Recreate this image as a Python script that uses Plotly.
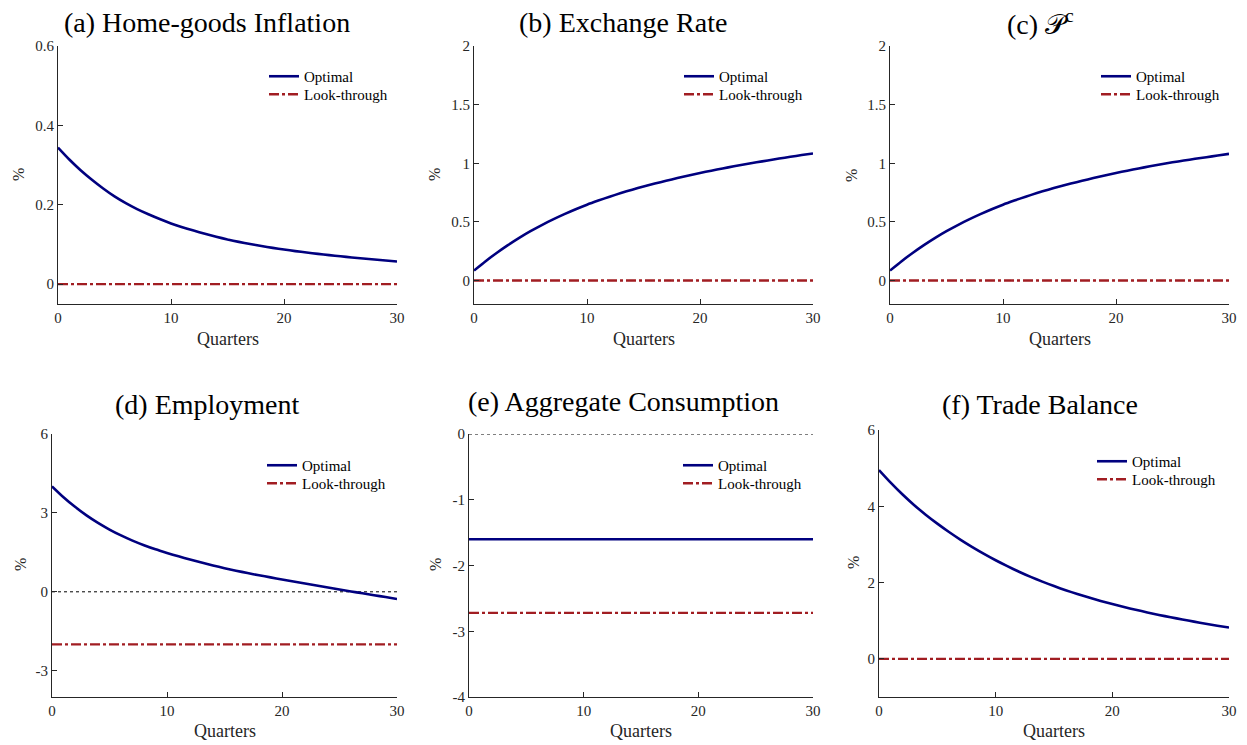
import plotly.graph_objects as go

W, H = 1247, 745

quarters = list(range(31))

home_infl_opt = [0.344, 0.314, 0.287, 0.263, 0.241, 0.221, 0.204, 0.189, 0.176, 0.164, 0.153,
                 0.1435, 0.135, 0.127, 0.1195, 0.1125, 0.1065, 0.101, 0.096, 0.0914, 0.0872,
                 0.0833, 0.0797, 0.0763, 0.0731, 0.0701, 0.0673, 0.0646, 0.0620, 0.0595, 0.0571]
home_infl_lt = [0.0, 0.0, 0.0, 0.0, 0.0, 0.0, 0.0, 0.0, 0.0, 0.0, 0.0, 0.0, 0.0, 0.0, 0.0, 0.0,
                0.0, 0.0, 0.0, 0.0, 0.0, 0.0, 0.0, 0.0, 0.0, 0.0, 0.0, 0.0, 0.0, 0.0, 0.0]

exch_opt = [0.085, 0.163, 0.235, 0.302, 0.364, 0.421, 0.473, 0.521, 0.566, 0.608, 0.647,
            0.682, 0.715, 0.746, 0.775, 0.802, 0.827, 0.851, 0.874, 0.896, 0.917,
            0.937, 0.956, 0.974, 0.991, 1.008, 1.024, 1.040, 1.055, 1.070, 1.084]
exch_lt = [0.0, 0.0, 0.0, 0.0, 0.0, 0.0, 0.0, 0.0, 0.0, 0.0, 0.0, 0.0, 0.0, 0.0, 0.0, 0.0,
           0.0, 0.0, 0.0, 0.0, 0.0, 0.0, 0.0, 0.0, 0.0, 0.0, 0.0, 0.0, 0.0, 0.0, 0.0]

pc_opt = [0.085, 0.163, 0.235, 0.302, 0.364, 0.421, 0.473, 0.521, 0.566, 0.608, 0.647,
          0.682, 0.715, 0.746, 0.775, 0.802, 0.827, 0.851, 0.874, 0.896, 0.917,
          0.937, 0.956, 0.974, 0.991, 1.008, 1.023, 1.038, 1.052, 1.066, 1.080]
pc_lt = [0.0, 0.0, 0.0, 0.0, 0.0, 0.0, 0.0, 0.0, 0.0, 0.0, 0.0, 0.0, 0.0, 0.0, 0.0, 0.0,
         0.0, 0.0, 0.0, 0.0, 0.0, 0.0, 0.0, 0.0, 0.0, 0.0, 0.0, 0.0, 0.0, 0.0, 0.0]

empl_opt = [4.01, 3.597, 3.231, 2.907, 2.621, 2.368, 2.144, 1.946, 1.770, 1.615, 1.478,
            1.348, 1.228, 1.113, 1.003, 0.898, 0.803, 0.713, 0.628, 0.548, 0.468,
            0.390, 0.313, 0.237, 0.162, 0.088, 0.015, -0.057, -0.129, -0.201, -0.272]
empl_lt = [-2.0, -2.0, -2.0, -2.0, -2.0, -2.0, -2.0, -2.0, -2.0, -2.0, -2.0, -2.0, -2.0, -2.0,
           -2.0, -2.0, -2.0, -2.0, -2.0, -2.0, -2.0, -2.0, -2.0, -2.0, -2.0, -2.0, -2.0, -2.0,
           -2.0, -2.0, -2.0]

cons_opt = [-1.6, -1.6, -1.6, -1.6, -1.6, -1.6, -1.6, -1.6, -1.6, -1.6, -1.6, -1.6, -1.6, -1.6,
            -1.6, -1.6, -1.6, -1.6, -1.6, -1.6, -1.6, -1.6, -1.6, -1.6, -1.6, -1.6, -1.6, -1.6,
            -1.6, -1.6, -1.6]
cons_lt = [-2.72, -2.72, -2.72, -2.72, -2.72, -2.72, -2.72, -2.72, -2.72, -2.72, -2.72, -2.72,
           -2.72, -2.72, -2.72, -2.72, -2.72, -2.72, -2.72, -2.72, -2.72, -2.72, -2.72, -2.72,
           -2.72, -2.72, -2.72, -2.72, -2.72, -2.72, -2.72]

tb_opt = [4.95, 4.62, 4.315, 4.035, 3.78, 3.545, 3.325, 3.12, 2.93, 2.752, 2.585,
          2.43, 2.285, 2.15, 2.025, 1.908, 1.80, 1.70, 1.607, 1.52, 1.438,
          1.36, 1.287, 1.218, 1.152, 1.09, 1.032, 0.976, 0.922, 0.87, 0.82]
tb_lt = [0.0, 0.0, 0.0, 0.0, 0.0, 0.0, 0.0, 0.0, 0.0, 0.0, 0.0, 0.0, 0.0, 0.0, 0.0, 0.0,
         0.0, 0.0, 0.0, 0.0, 0.0, 0.0, 0.0, 0.0, 0.0, 0.0, 0.0, 0.0, 0.0, 0.0, 0.0]

titles = ["(a) Home-goods Inflation", "(b) Exchange Rate", "(c) 𝒫<sup>c</sup>",
          "(d) Employment", "(e) Aggregate Consumption", "(f) Trade Balance"]
series_names = ["Optimal", "Look-through"]
x_ticks = [0, 10, 20, 30]
x_ticklabels = ["0", "10", "20", "30"]
y_ticks = [[0, 0.2, 0.4, 0.6], [0, 0.5, 1, 1.5, 2], [0, 0.5, 1, 1.5, 2],
           [-3, 0, 3, 6], [-4, -3, -2, -1, 0], [0, 2, 4, 6]]
y_ticklabels = [["0", "0.2", "0.4", "0.6"], ["0", "0.5", "1", "1.5", "2"],
                ["0", "0.5", "1", "1.5", "2"], ["-3", "0", "3", "6"],
                ["-4", "-3", "-2", "-1", "0"], ["0", "2", "4", "6"]]
y_ranges = [[-0.05, 0.6], [-0.2, 2], [-0.2, 2], [-4, 6], [-4, 0], [-1, 6]]

opt_series = [home_infl_opt, exch_opt, pc_opt, empl_opt, cons_opt, tb_opt]
lt_series = [home_infl_lt, exch_lt, pc_lt, empl_lt, cons_lt, tb_lt]

# layout geometry (pixels)
boxes = [(58, 397, 46, 304), (474, 813, 46, 304), (890, 1229, 46, 304),
         (52, 397, 434, 697), (469, 813, 434, 697), (879, 1229, 430, 697)]
title_pos = [(207, 22), (623, 22), (1040, 22), (207, 404), (623, 402), (1040, 404)]
xlabel_pos = [(228, 339), (644, 339), (1060, 339), (225, 731), (641, 731), (1054, 731)]
ylabel_pos = [(18, 175), (434, 175), (851, 175), (20, 565), (435, 565), (853, 563)]
# (text start x, first item centre y)
legend_pos = [(305, 77), (720, 77), (1137, 77), (303, 466), (719, 466), (1133, 462)]
LEG_DY = 18

NAVY = "#00007F"
RED = "#A11D22"
AXC = "#262626"
FONT = "Liberation Serif"

fig = go.Figure()
layout = dict(
    template="none", showlegend=True,
    width=W, height=H, margin=dict(l=0, r=0, t=0, b=0, pad=0), autosize=False,
    paper_bgcolor="white", plot_bgcolor="white",
    font=dict(family=FONT, color=AXC, size=15),
    annotations=[], shapes=[],
)

leg_idx = 0
for i in range(6):
    k = i + 1
    xs = "x" if k == 1 else f"x{k}"
    ys = "y" if k == 1 else f"y{k}"
    lgs = []
    for j in range(2):
        leg_idx += 1
        lgs.append("legend" if leg_idx == 1 else f"legend{leg_idx}")
    fig.add_trace(go.Scatter(x=quarters, y=opt_series[i], mode="lines", name=series_names[0],
                             line=dict(color=NAVY, width=2.6, shape="spline", smoothing=0.6),
                             xaxis=xs, yaxis=ys, legend=lgs[0], showlegend=True))
    fig.add_trace(go.Scatter(x=quarters, y=lt_series[i], mode="lines", name=series_names[1],
                             line=dict(color=RED, width=2.4, dash="10px,3px,3px,3px"),
                             xaxis=xs, yaxis=ys, legend=lgs[1], showlegend=True))
    x0, x1, y0, y1 = boxes[i]
    axis_common = dict(showline=True, linecolor=AXC, linewidth=1, ticks="inside", ticklen=5,
                       tickcolor=AXC, tickwidth=1, showgrid=False, zeroline=False,
                       automargin=False, mirror=False,
                       tickfont=dict(family=FONT, size=15, color=AXC), fixedrange=True)
    layout["xaxis" if k == 1 else f"xaxis{k}"] = dict(
        domain=[x0 / W, x1 / W], anchor=ys, range=[0, 30],
        tickvals=x_ticks, ticktext=x_ticklabels, **axis_common)
    layout["yaxis" if k == 1 else f"yaxis{k}"] = dict(
        domain=[1 - y1 / H, 1 - y0 / H], anchor=xs, range=y_ranges[i],
        tickvals=y_ticks[i], ticktext=y_ticklabels[i], **axis_common)
    tx0, cy0 = legend_pos[i]
    for j in range(2):
        cy = cy0 + j * LEG_DY
        layout[lgs[j]] = dict(x=(tx0 - 41) / W, y=1 - (cy - 17) / H, xanchor="left",
                              yanchor="top", bgcolor="rgba(0,0,0,0)", borderwidth=0,
                              itemwidth=30, visible=True,
                              font=dict(family=FONT, size=15, color="black"))
    tx, ty = title_pos[i]
    layout["annotations"].append(dict(text=titles[i], x=tx / W, y=1 - ty / H, xref="paper",
                                      yref="paper", showarrow=False, xanchor="center",
                                      yanchor="middle",
                                      font=dict(family=FONT, size=28, color="black")))
    qx, qy = xlabel_pos[i]
    layout["annotations"].append(dict(text="Quarters", x=qx / W, y=1 - qy / H, xref="paper",
                                      yref="paper", showarrow=False, xanchor="center",
                                      yanchor="middle",
                                      font=dict(family=FONT, size=18, color=AXC)))
    px, py = ylabel_pos[i]
    layout["annotations"].append(dict(text="%", x=px / W, y=1 - py / H, xref="paper",
                                      yref="paper", showarrow=False, xanchor="center",
                                      yanchor="middle", textangle=-90,
                                      font=dict(family=FONT, size=16, color=AXC)))

# dotted zero reference lines in (d) and (e)
for xs, ys in [("x4", "y4"), ("x5", "y5")]:
    layout["shapes"].append(dict(type="line", xref=xs, yref=ys, x0=0, x1=30, y0=0, y1=0,
                                 line=dict(color="black", width=1, dash="dot"), layer="below"))

fig.update_layout(**layout)
fig.write_html("out.html")
